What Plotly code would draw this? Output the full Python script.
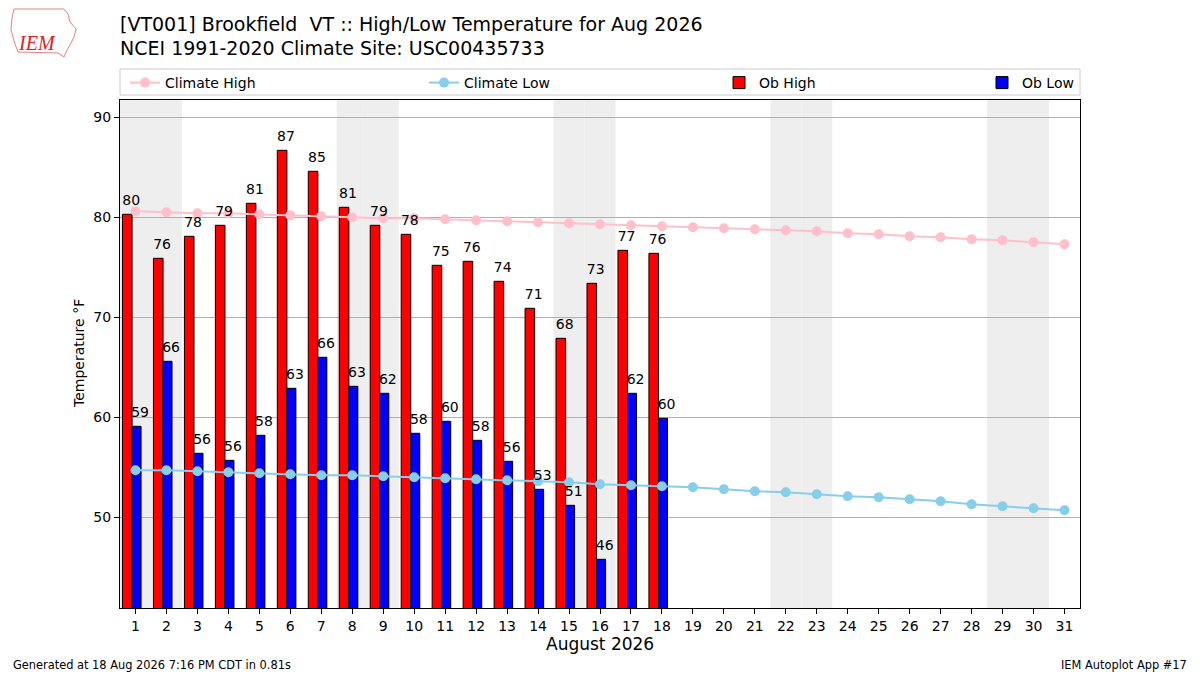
import datetime
import plotly.graph_objects as go

# ---- data ----
month_days = list(range(1, 32))
obs_days = list(range(1, 19))

ob_high = [80.3, 75.9, 78.1, 79.2, 81.4, 86.7, 84.6, 81.0, 79.2, 78.3,
           75.2, 75.6, 73.6, 70.9, 67.9, 73.4, 76.7, 76.4]
ob_low = [59.1, 65.6, 56.4, 55.7, 58.2, 62.9, 66.0, 63.1, 62.4, 58.4,
          59.6, 57.7, 55.6, 52.8, 51.2, 45.8, 62.4, 59.9]

clim_high = [80.6, 80.5, 80.4, 80.4, 80.3, 80.2, 80.1, 80.0, 79.9, 79.9,
             79.8, 79.7, 79.6, 79.5, 79.4, 79.3, 79.2, 79.1, 79.0, 78.9,
             78.8, 78.7, 78.6, 78.4, 78.3, 78.1, 78.0, 77.8, 77.7, 77.5, 77.3]
clim_low = [54.7, 54.7, 54.6, 54.5, 54.4, 54.3, 54.2, 54.2, 54.1, 54.0,
            53.9, 53.8, 53.7, 53.6, 53.5, 53.3, 53.2, 53.1, 53.0, 52.8,
            52.6, 52.5, 52.3, 52.1, 52.0, 51.8, 51.6, 51.3, 51.1, 50.9, 50.7]

year, month = 2026, 8

FONT = "DejaVu Sans"

# plot area in pixels (figure is 1200x675)
L, R, T, B = 120, 1080, 100, 608


def px(x, y):
    # pixel -> paper coords
    return (x - L) / (R - L), (B - y) / (B - T)


fig = go.Figure()

# climate lines
fig.add_trace(go.Scatter(
    x=month_days, y=clim_high, mode="lines+markers", name="Climate High",
    line=dict(color="#FFC0CB", width=2), marker=dict(size=10, color="#FFC0CB"),
    legend="legend",
))
fig.add_trace(go.Scatter(
    x=month_days, y=clim_low, mode="lines+markers", name="Climate Low",
    line=dict(color="#87CEEB", width=2), marker=dict(size=10, color="#87CEEB"),
    legend="legend2",
))

# observed bars
fig.add_trace(go.Bar(
    x=obs_days, y=ob_high, name="Ob High", width=0.31, offset=-0.42,
    marker=dict(color="#FF0000", line=dict(color="black", width=1)),
    legend="legend3",
))
fig.add_trace(go.Bar(
    x=obs_days, y=ob_low, name="Ob Low", width=0.29, offset=-0.11,
    marker=dict(color="#0000FF", line=dict(color="black", width=1)),
    legend="legend4",
))

# value labels, starting near the bar's left edge like the original
# invisible markers just push the text a little above the bar top
for xs, vals in [([d - 0.14 for d in obs_days], ob_high),
                 ([d + 0.15 for d in obs_days], ob_low)]:
    fig.add_trace(go.Scatter(
        x=xs, y=vals, mode="markers+text",
        marker=dict(size=7, opacity=0),
        text=[f"{v:.0f}" for v in vals], textposition="top center",
        textfont=dict(family=FONT, size=14, color="black"),
        showlegend=False, hoverinfo="skip", cliponaxis=False,
    ))

shapes = []
# weekend shading
for d in month_days:
    if datetime.date(year, month, d).weekday() >= 5:
        shapes.append(dict(type="rect", xref="x", yref="paper", x0=d - 0.5, x1=d + 0.5,
                           y0=0, y1=1, fillcolor="#EEEEEE", line=dict(width=0), layer="below"))

# legend frame
lx0, ly1 = px(120, 69)
lx1, ly0 = px(1080, 95)
shapes.append(dict(type="rect", xref="paper", yref="paper", x0=lx0, x1=lx1, y0=ly0, y1=ly1,
                   fillcolor="white", line=dict(color="#CCCCCC", width=1), layer="below"))

# rough IEM logo outline
logo_pts = [(14, 9), (64, 9), (68, 14), (70, 22), (76, 29), (74, 37), (70, 45), (67, 50),
            (64, 57), (58, 53), (18, 52), (15, 44), (11, 30), (12, 18)]
path = ""
for i, (a, b) in enumerate(logo_pts):
    xp, yp = px(a, b)
    path += ("M" if i == 0 else "L") + f"{xp},{yp}"
shapes.append(dict(type="path", xref="paper", yref="paper", path=path + "Z",
                   line=dict(color="#E88080", width=1)))

annotations = []


def add_text(text, x, y, size, xanchor="left", yanchor="middle", **kw):
    xp, yp = px(x, y)
    annotations.append(dict(text=text, x=xp, y=yp, xref="paper", yref="paper",
                            xanchor=xanchor, yanchor=yanchor, showarrow=False,
                            font=dict(family=kw.pop("family", FONT), size=size,
                                      color=kw.pop("color", "black")), **kw))


add_text("[VT001] Brookfield\u00a0 VT :: High/Low Temperature for Aug 2026", 118, 24, 19)
add_text("NCEI 1991-2020 Climate Site: USC00435733", 118, 48, 19)
add_text("<i>IEM</i>", 37, 43, 20, xanchor="center", family="Liberation Serif", color="#E0201F")
add_text("August 2026", 600, 644, 17, xanchor="center")
add_text("Temperature °F", 79, 354, 14, xanchor="center", textangle=-90)
add_text("Generated at 18 Aug 2026 7:16 PM CDT in 0.81s", 11, 665, 11.4)
add_text("IEM Autoplot App #17", 1189, 665, 11.4, xanchor="right")


def legend_at(x):
    xp, yp = px(x, 67)
    return dict(x=xp, y=yp, xanchor="left", yanchor="top", orientation="h",
                bgcolor="rgba(0,0,0,0)", borderwidth=0,
                font=dict(family=FONT, size=14, color="black"))


fig.update_layout(
    width=1200, height=675,
    margin=dict(l=L, r=1200 - R, t=T, b=675 - B),
    paper_bgcolor="white", plot_bgcolor="white",
    barmode="overlay",
    font=dict(family=FONT, size=14, color="black"),
    xaxis=dict(range=[0.5, 31.5], tickmode="array", tickvals=month_days,
               ticktext=[str(d) for d in month_days], ticks="outside", ticklen=5,
               tickcolor="black", showgrid=False, showline=True, linecolor="black",
               mirror=True, zeroline=False, tickfont=dict(size=14)),
    yaxis=dict(range=[40.93, 91.73], tickvals=[50, 60, 70, 80, 90], ticks="outside",
               ticklen=5, tickcolor="black", showgrid=True, gridcolor="#B0B0B0",
               gridwidth=1, showline=True, linecolor="black", mirror=True,
               zeroline=False, tickfont=dict(size=14)),
    legend=legend_at(125),
    legend2=legend_at(424),
    legend3=legend_at(719),
    legend4=legend_at(982),
    shapes=shapes,
    annotations=annotations,
)

# drop the default page margin so the figure sits at the window origin
fig.write_html("out.html", config={"displayModeBar": False},
               post_script="document.body.style.margin='0';")
